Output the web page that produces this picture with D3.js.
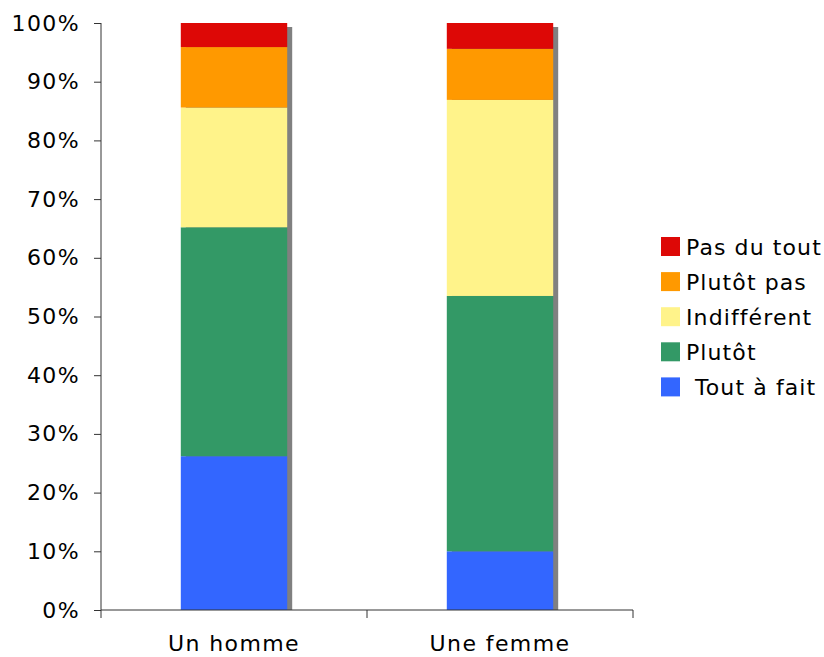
<!DOCTYPE html>
<html>
<head>
<meta charset="utf-8">
<script src="https://cdn.jsdelivr.net/npm/d3@7"></script>
<style>
  html, body { margin: 0; padding: 0; background: #fff; }
  svg text { font-family: Verdana, "DejaVu Sans", sans-serif; fill: #000; letter-spacing: 1.4px; }
  svg .legend text { letter-spacing: 1.1px; }
</style>
</head>
<body>
<svg id="chart" width="824" height="657"></svg>
<script>
// Survey answers by respondent group (percent of each group)
const categories = ["Un homme", "Une femme"];
const seriesNames = ["Tout à fait", "Plutôt", "Indifférent", "Plutôt pas", "Pas du tout"];
const toutAFait   = [26.2, 10.0];
const plutot      = [39.0, 43.5];
const indifferent = [20.4, 33.4];
const plutotPas   = [10.3, 8.7];
const pasDuTout   = [4.1, 4.4];
const seriesColors = ["#3366FF", "#339966", "#FFF38A", "#FF9900", "#DD0806"];
const yTicks = [0, 10, 20, 30, 40, 50, 60, 70, 80, 90, 100];

const seriesValues = [toutAFait, plutot, indifferent, plutotPas, pasDuTout];
const rows = categories.map((c, i) => {
  const r = { cat: c };
  seriesNames.forEach((s, k) => { r[s] = seriesValues[k][i]; });
  return r;
});

const svg = d3.select("#chart");
const plot = { left: 101, right: 633, top: 23, bottom: 610 };

const x = d3.scaleBand().domain(categories).range([plot.left, plot.right]).padding(0);
const y = d3.scaleLinear().domain([0, 100]).range([plot.bottom, plot.top]);

const stacked = d3.stack().keys(seriesNames)(rows);
const barW = x.bandwidth() * 0.4;
const barX = c => x(c) + (x.bandwidth() - barW) / 2;

// drop shadow behind each stacked column
svg.append("g").selectAll("rect").data(rows).join("rect")
  .attr("x", d => barX(d.cat) + 5)
  .attr("y", y(100) + 4)
  .attr("width", barW)
  .attr("height", y(0) - y(100) - 4)
  .attr("fill", "#808080");

// stacked segments
svg.append("g").selectAll("g").data(stacked).join("g")
  .attr("fill", (d, i) => seriesColors[i])
  .selectAll("rect").data(d => d).join("rect")
  .attr("x", d => barX(d.data.cat))
  .attr("y", d => y(d[1]))
  .attr("width", barW)
  .attr("height", d => y(d[0]) - y(d[1]));

// y axis
const yAxis = d3.axisLeft(y).tickValues(yTicks).tickFormat(d => d + "%")
  .tickSize(7).tickPadding(14);
const gy = svg.append("g").attr("transform", `translate(${plot.left},0)`).call(yAxis);
gy.select(".domain").attr("stroke", "#333").attr("d", `M0,${plot.top}V${plot.bottom}`);
gy.selectAll(".tick line").attr("stroke", "#333");
gy.selectAll(".tick text").attr("font-size", 22).attr("fill", "#000")
  .attr("font-family", 'Verdana, "DejaVu Sans", sans-serif');

// x axis with ticks between categories
const gx = svg.append("g");
gx.append("line").attr("x1", plot.left).attr("x2", plot.right)
  .attr("y1", plot.bottom).attr("y2", plot.bottom).attr("stroke", "#333");
const boundaries = categories.map(c => x(c)).concat([x(categories[categories.length - 1]) + x.bandwidth()]);
gx.selectAll("line.t").data(boundaries).join("line").attr("class", "t")
  .attr("x1", d => d).attr("x2", d => d)
  .attr("y1", plot.bottom).attr("y2", plot.bottom + 8).attr("stroke", "#333");
gx.selectAll("text").data(categories).join("text")
  .attr("x", d => x(d) + x.bandwidth() / 2)
  .attr("y", 651)
  .attr("text-anchor", "middle")
  .attr("font-size", 22)
  .text(d => d);

// legend, top entry is the last series
const legendOrder = seriesNames.map((s, i) => ({ name: s, color: seriesColors[i] })).reverse();
const lg = svg.append("g").attr("class", "legend").attr("transform", "translate(661,237)");
const item = lg.selectAll("g").data(legendOrder).join("g")
  .attr("transform", (d, i) => `translate(0,${i * 35.1})`);
item.append("rect").attr("width", 19).attr("height", 19).attr("fill", d => d.color);
item.append("text").attr("x", d => d.name.startsWith("Tout") ? 34 : 25).attr("y", 18)
  .attr("font-size", 22).text(d => d.name);
</script>
</body>
</html>
